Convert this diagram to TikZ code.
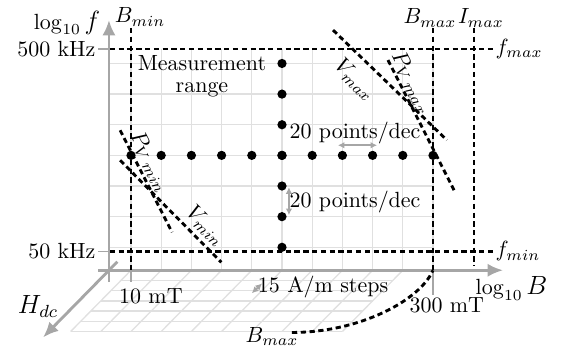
\documentclass[tikz,border=0pt]{standalone}
\usepackage{amsmath}
\usetikzlibrary{calc,arrows.meta}

\begin{document}
\begin{tikzpicture}[x=0.483cm, y=0.49cm,
    axisline/.style={line width=1.3pt, black!35, -{Latex[length=7pt,width=6pt]}},
    limitline/.style={line width=1.3pt, dash pattern=on 2.4pt off 1.6pt},
    tickline/.style={black!35, line width=0.6pt},
    stepline/.style={black!35, line width=0.8pt, {Latex[length=3pt,width=3pt]}-{Latex[length=3pt,width=3pt]}},
    gridline/.style={black!12, line width=0.6pt}]
  \useasboundingbox (-4.338,-3.333) rectangle (14.305,8.072);

  \coordinate (O) at (-0.73,-0.75);
  \coordinate (Bstart) at (-1.09,-0.75);
  \coordinate (Bend) at (12.32,-0.75);
  \coordinate (fstart) at (-0.73,-1.14);
  \coordinate (fend) at (-0.73,7.42);
  \coordinate (Hstart) at (-0.45,-0.47);
  \coordinate (Hend) at (-2.91,-2.94);

  % floor grid (H_dc plane)
  \foreach \k in {0,...,6}
    \draw[gridline] ($(0,-0.75)+(-\k/3,-\k/3)$) -- ++(9,0);
  \foreach \a in {0,...,9}
    \draw[gridline] (\a,-0.75) -- ++(-2,-2);

  % B-f plane grid
  \draw[gridline, step=1] (O) grid (10,6.47);

  % axes
  \draw[axisline] (Bstart) -- (Bend);
  \draw[axisline] (fstart) -- (fend);
  \draw[axisline] (Hstart) -- (Hend);

  % frequency limits
  \coordinate (fmaxT) at (-1.09,6.47);
  \coordinate (fmaxL) at (-0.70,6.47);
  \coordinate (fmaxR) at (11.99,6.47);
  \coordinate (fminT) at (-1.09,-0.13);
  \coordinate (fminL) at (-0.70,-0.13);
  \coordinate (fminR) at (11.99,-0.13);
  \draw[tickline] (fmaxT) -- (fmaxL);
  \draw[tickline] (fminT) -- (fminL);
  \draw[limitline] (fmaxL) -- (fmaxR);
  \draw[limitline] (fminL) -- (fminR);

  % flux density and current limits
  \coordinate (BminT) at (0,7.16);
  \coordinate (BminB) at (0,-0.75);
  \coordinate (BminK) at (0,-1.14);
  \coordinate (BmaxT) at (10,7.16);
  \coordinate (BmaxB) at (10,-0.75);
  \coordinate (BmaxK) at (10,-1.57);
  \coordinate (ImaxT) at (11.36,7.16);
  \coordinate (ImaxB) at (11.36,-0.59);
  \draw[tickline] (BminB) -- (BminK);
  \draw[tickline] (BmaxB) -- (BmaxK);
  \draw[limitline] (BminT) -- (BminB);
  \draw[limitline] (BmaxT) -- (BmaxB);
  \draw[limitline] (ImaxT) -- (ImaxB);

  % voltage and loss limits
  \coordinate (VmaxA) at (6.69,7.09);
  \coordinate (VmaxB) at (10.46,3.50);
  \coordinate (PmaxA) at (8.51,6.11);
  \coordinate (PmaxB) at (10.73,1.80);
  \coordinate (PminA) at (-0.36,3.82);
  \coordinate (PminB) at (1.36,0.49);
  \coordinate (VminA) at (-0.36,2.84);
  \coordinate (VminB) at (2.99,-0.49);
  \draw[limitline] (VmaxA) -- (VmaxB);
  \draw[limitline] (PmaxA) -- (PmaxB);
  \draw[limitline] (PminA) -- (PminB);
  \draw[limitline] (VminA) -- (VminB);

  % B_max circle on the floor
  \coordinate (BmaxF) at (5.33,-2.78);
  \draw[limitline] (BmaxF) .. controls (7.58,-2.78) and (9.57,-1.73) .. (BmaxB);

  % measurement points
  \foreach \u in {0,...,10} \fill (\u,3) circle (2.1pt);
  \foreach \v in {0,...,6} \fill (5,\v) circle (2.1pt);

  % step markers
  \draw[stepline] (6.85,3.33) -- (8.15,3.33);
  \draw[stepline] (5.23,1.96) -- (5.23,1.05);
  \draw[stepline] (4.0,-1.50) -- (4.34,-1.18);

  % labels
  \node (logf)   at (-2.12,7.32) {$\log_{10}$\,{\large$f$}};
  \node (logB)   at (12.6,-1.34) {$\log_{10}$\,{\large$B$}};
  \node (Hdc)    at (-3.08,-1.93) {\large$H_{dc}$};
  \node[left, inner sep=1pt] (khz500) at (-1.09,6.47) {500 kHz};
  \node[left, inner sep=1pt] (khz50)  at (-1.09,-0.13) {50 kHz};
  \node[right, inner sep=1pt] (fmax) at (fmaxR) {$f_{max}$};
  \node[right, inner sep=1pt] (fmin) at (fminR) {$f_{min}$};
  \node (Bmin)   at (0.3,7.52) {$B_{min}$};
  \node (Bmax)   at (9.9,7.48) {$B_{max}$};
  \node (Imax)   at (11.59,7.48) {$I_{max}$};
  \node (mT10)   at (0.66,-1.60) {10 mT};
  \node (mT300)  at (10.46,-1.90) {300 mT};
  \node (BmaxC)  at (4.67,-2.91) {$B_{max}$};
  \node[align=center] (range) at (2.35,5.59) {Measurement\\[-2pt]range};
  \node (ptsB)   at (7.42,3.73) {20 points/dec};
  \node (ptsf)   at (7.42,1.47) {20 points/dec};
  \node (steps)  at (6.36,-1.31) {15 A/m steps};
  \node[rotate=-45] (Vmax) at (7.42,5.46) {$V_{max}$};
  \node[rotate=-63] (Pmax) at (9.30,5.36) {$P_{V\,max}$};
  \node[rotate=-63] (Pmin) at (0.63,2.78) {$P_{V\,min}$};
  \node[rotate=-45] (Vmin) at (2.48,0.69) {$V_{min}$};
\end{tikzpicture}
\end{document}
